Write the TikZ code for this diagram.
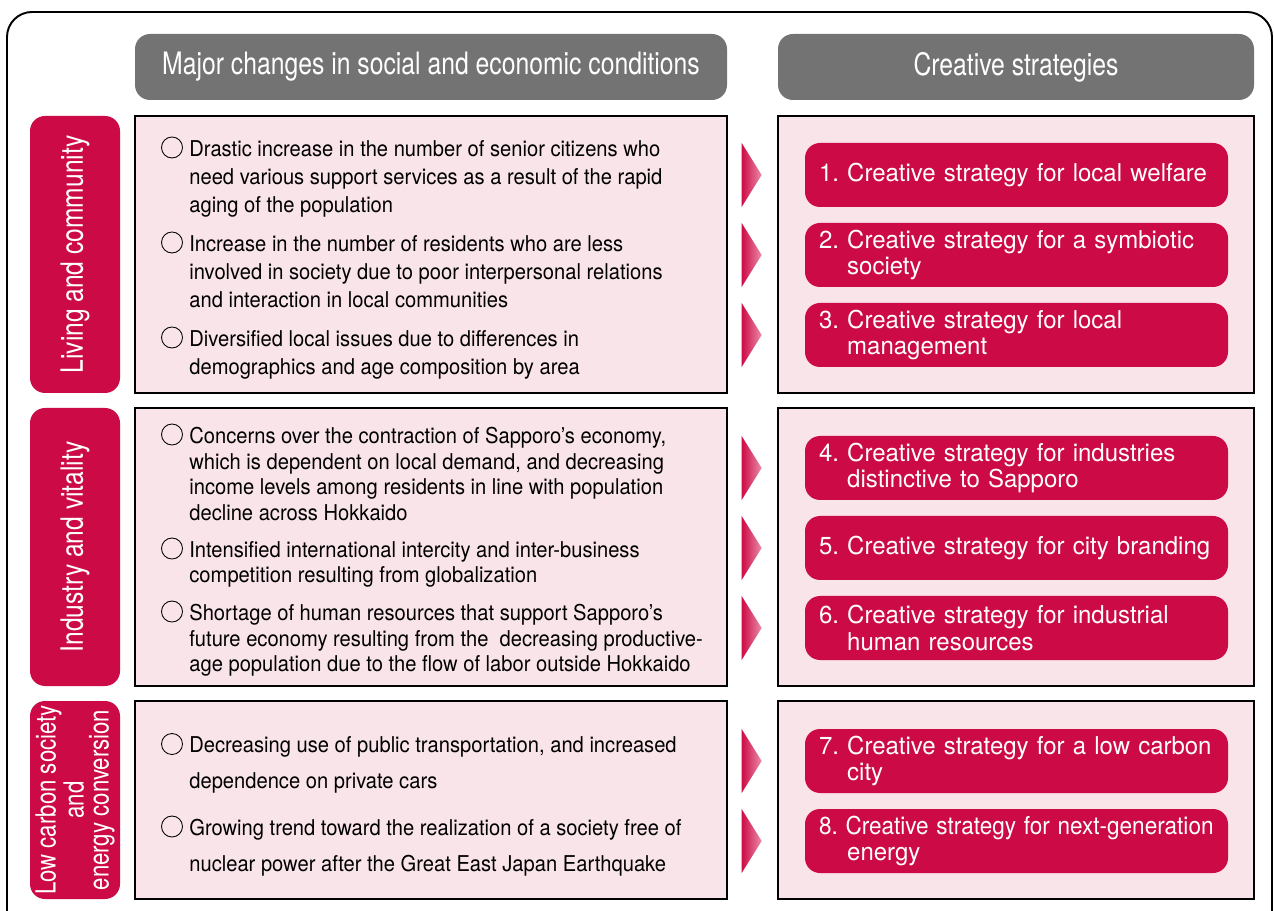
\documentclass[tikz,border=0pt]{standalone}
\usepackage{fontspec}
\setmainfont{TeX Gyre Heros}[FakeStretch=0.925]
\newfontfamily\hdfont{TeX Gyre Heros}[FakeStretch=0.8]
\newfontfamily\stfont{TeX Gyre Heros}[FakeStretch=0.975]
\usepackage{tikz}
\usetikzlibrary{calc}
\definecolor{hdgray}{HTML}{737373}
\definecolor{crimson}{HTML}{CC0A46}
\definecolor{blush}{HTML}{F9E4EA}
\definecolor{tipred}{HTML}{EA8CA8}
\tikzset{x=0.02cm, y=-0.02cm,
 header/.style={fill=hdgray, rounded corners=0.3cm, text=white, inner sep=0pt,
   font=\hdfont\fontsize{17.6}{20}\selectfont, minimum height=66*0.02cm},
 pinkbox/.style={draw=black, line width=0.6pt, fill=blush, inner sep=0pt},
 sidelbl/.style={fill=crimson, rounded corners=0.3cm, text=white, inner sep=0pt,
   rotate=90, align=center, minimum height=90*0.02cm,
   font=\hdfont\fontsize{17.5}{14.7}\selectfont},
 strat/.style={fill=crimson, rounded corners=0.3cm, text=white, inner sep=0pt,
   minimum width=423*0.02cm, minimum height=64*0.02cm, text width=395*0.02cm,
   align=left, font=\stfont\fontsize{14}{15.3}\selectfont},
 chg/.style={anchor=north west, yshift=0.32cm, inner sep=0pt, align=left,
   font=\fontsize{12.4}{#1}\selectfont},
 chg/.default=15.9,
 bullet/.style={draw=black, line width=0.5pt, circle, inner sep=0pt,
   minimum size=21*0.02cm},
 }

\begin{document}
\frenchspacing
\begin{tikzpicture}
    \path[use as bounding box] (0,0) rectangle (1274,911);
    \clip (0,0) rectangle (1274,911);
    \draw[line width=1.1pt, rounded corners=0.5cm] (7,12) rectangle (1272,945);

    \node[header, minimum width=592*0.02cm] (hchg) at (431,67) {Major changes in social and economic conditions};
    \node[header, minimum width=476*0.02cm] (hstr) at (1016,67) {Creative strategies};

    % row frames
    \foreach \r/\yc/\h in {1/254.5/277, 2/547/278, 3/800/198} {
        \node[pinkbox, minimum width=592*0.02cm, minimum height=\h*0.02cm] (chg\r) at (431,\yc) {};
        \node[pinkbox, minimum width=476*0.02cm, minimum height=\h*0.02cm] (str\r) at (1016,\yc) {};
    }

    \node[sidelbl, minimum width=277*0.02cm] (lab1) at (75,254.5) {Living and community};
    \node[sidelbl, minimum width=278*0.02cm] (lab2) at (75,547) {Industry and vitality};
    \node[sidelbl, minimum width=198*0.02cm, font=\hdfont\fontsize{15.8}{14.2}\selectfont]
        (lab3) at (75,800) {Low carbon society\\and\\energy conversion};

    % living and community
    \node[chg] (c11) at (189,156) {Drastic increase in the number of senior citizens who\\need various support services as a result of the rapid\\aging of the population};
    \node[chg] (c12) at (189,251) {Increase in the number of residents who are less\\involved in society due to poor interpersonal relations\\and interaction in local communities};
    \node[chg] (c13) at (189,346) {Diversified local issues due to differences in\\demographics and age composition by area};

    % industry and vitality
    \node[chg=14.6] (c21) at (189,443) {Concerns over the contraction of Sapporo’s economy,\\which is dependent on local demand, and decreasing\\income levels among residents in line with population\\decline across Hokkaido};
    \node[chg=14.6] (c22) at (189,557) {Intensified international intercity and inter-business\\competition resulting from globalization};
    \node[chg=14.6] (c23) at (189,620) {Shortage of human resources that support Sapporo’s\\future economy resulting from the\ \ decreasing productive-\\age population due to the flow of labor outside Hokkaido};

    % low carbon
    \node[chg=20.2] (c31) at (189,752.5) {Decreasing use of public transportation, and increased\\dependence on private cars};
    \node[chg=20.2] (c32) at (189,835) {Growing trend toward the realization of a society free of\\nuclear power after the Great East Japan Earthquake};

    \foreach \c in {c11,c12,c13,c21,c22,c23,c31,c32}
        \node[bullet] (b\c) at ($(\c.north west)+(-17,7.5)$) {};

    % strategies
    \node[strat] (s1) at (1016.5,175) {1. Creative strategy for local welfare};
    \node[strat] (s2) at (1016.5,255) {2. Creative strategy for a symbiotic\\\hphantom{2.~}society};
    \node[strat] (s3) at (1016.5,335) {3. Creative strategy for local\\\hphantom{3.~}management};
    \node[strat] (s4) at (1016.5,468) {4. Creative strategy for industries\\\hphantom{4.~}distinctive to Sapporo};
    \node[strat] (s5) at (1016.5,548) {5. Creative strategy for city branding};
    \node[strat] (s6) at (1016.5,628) {6. Creative strategy for industrial\\\hphantom{6.~}human resources};
    \node[strat] (s7) at (1016.5,761) {7. Creative strategy for a low carbon\\\hphantom{7.~}city};
    \node[strat] (s8) at (1016.5,841) {\scalebox{0.94}[1]{8. Creative strategy for next-generation}\\\hphantom{8.~}energy};

    \foreach \s in {s1,s2,s3,s4,s5,s6,s7,s8}
        \shade[left color=crimson, right color=tipred]
            ($(\s.west)+(-63,-32)$) -- ($(\s.west)+(-43,0)$) -- ($(\s.west)+(-63,32)$) -- cycle;
\end{tikzpicture}
\end{document}
